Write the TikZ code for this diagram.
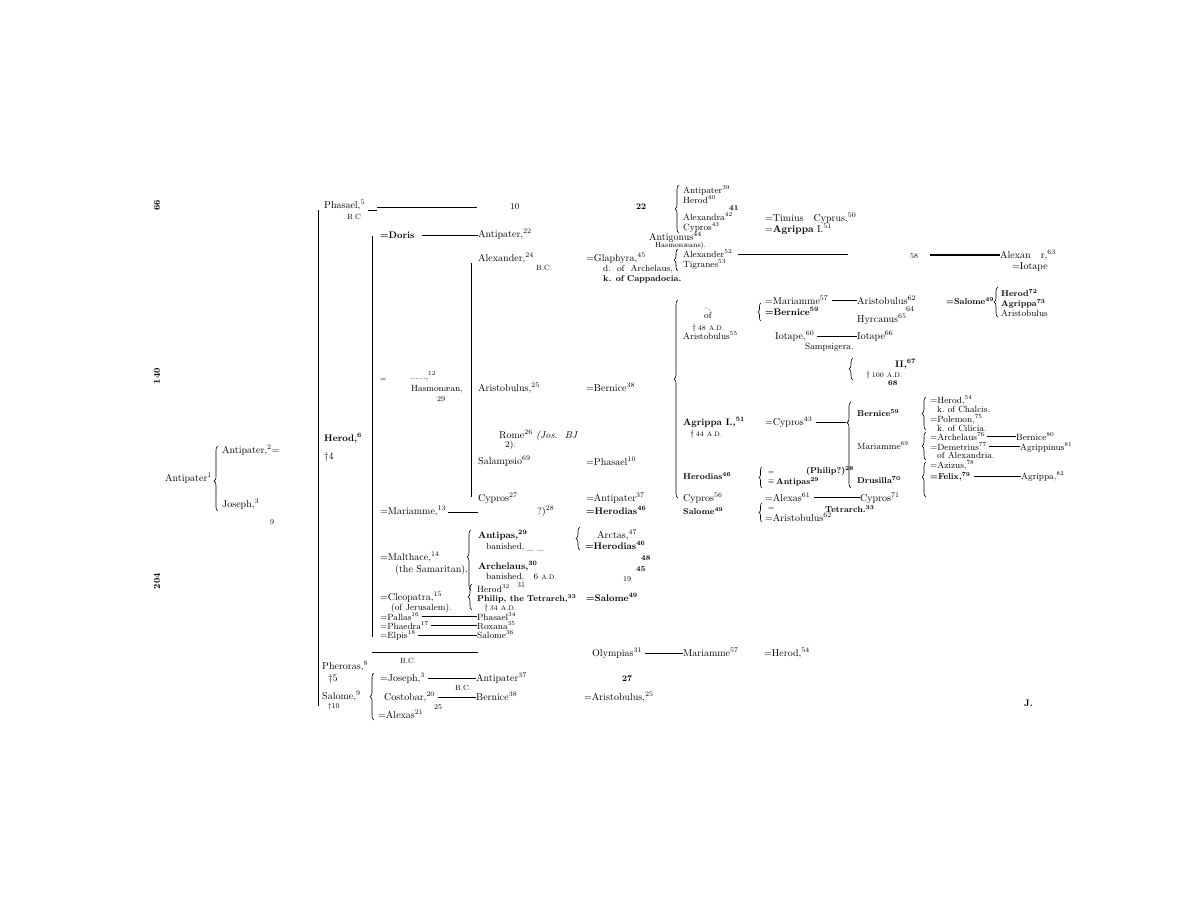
\documentclass[tikz,border=0pt]{standalone}
\usetikzlibrary{decorations.pathreplacing}
\newcommand\nsup[1]{\textsuperscript{#1}}
\newcommand\myAD{{\fontsize{6.5}{7}\selectfont A.D.}}
\newcommand\myBC{{\fontsize{6.5}{7}\selectfont B.C.}}
\begin{document}
\begin{tikzpicture}[x=1pt,y=-1pt,
  t/.style={anchor=base west,inner sep=0pt,font=\fontsize{10}{11}\selectfont},
  tb/.style={t,font=\fontsize{9.5}{11}\selectfont\bfseries},
  ts/.style={t,font=\fontsize{9}{10}\selectfont},
  tsb/.style={t,font=\fontsize{8.5}{10}\selectfont\bfseries},
  tn/.style={t,font=\fontsize{7.5}{8}\selectfont},
  tnb/.style={t,font=\fontsize{7.5}{8}\selectfont\bfseries},
  ln/.style={line width=0.8pt},
  br/.style={decorate,decoration={brace,amplitude=4pt},line width=0.6pt}]
\useasboundingbox (0,0) rectangle (1188,919);
\fill[white] (0,0) rectangle (1188,919);
% margin numbers
\node[t,rotate=90,anchor=center,font=\fontsize{9}{10}\selectfont\bfseries] (m66) at (157,205) {66};
\node[t,rotate=90,anchor=center,font=\fontsize{9}{10}\selectfont\bfseries] (m140) at (157,376) {140};
\node[t,rotate=90,anchor=center,font=\fontsize{9}{10}\selectfont\bfseries] (m204) at (157,581) {204};
% left
\node[t] (ant1) at (165,481) {Antipater\nsup{1}};
\node[t] (ant2) at (222,453) {Antipater,\nsup{2}=};
\node[t] (jos3) at (222,507) {Joseph,\nsup{3}};
\node[tn] (n9) at (270,524) {9};
\draw[br,decoration={aspect=0.46}] (218,511) -- (218,446);
% main line
\coordinate (v1t) at (318,210); \coordinate (v1b) at (318,706);
\draw[ln] (v1t) -- (v1b);
\node[t] (phasael5) at (324,208) {Phasael,\nsup{5}};
\node[tn] (bc1) at (347,219) {B.C};
\coordinate (p5a) at (368,210); \coordinate (p5b) at (377,210);
\coordinate (p5c) at (377,207); \coordinate (p5d) at (477,207);
\draw[ln] (p5a) -- (p5b); \draw[ln] (p5c) -- (p5d);
\node[ts] (n10) at (510,209) {10};
\node[tsb] (n22) at (636,209) {22};
\node[tb] (herod6) at (324,441) {Herod,\nsup{6}};
\node[t] (d4) at (324,459) {\dag 4};
% column 2
\coordinate (v2t) at (372,236); \coordinate (v2b) at (372,637);
\draw[ln] (v2t) -- (v2b);
\node[tb] (doris) at (380,238) {=Doris};
\node[t] (antip22) at (478,237) {Antipater,\nsup{22}};
\coordinate (dl) at (422,235);
\draw[ln] (dl) -- (dl -| antip22.west);
\node[t] (alex24) at (478,261) {Alexander,\nsup{24}};
\node[tn] (bc2) at (536,270) {B.C.};
\coordinate (v3t) at (471,263); \coordinate (v3b) at (471,497);
\draw[ln] (v3t) -- (v3b);
\node[t] (glaph) at (586,261) {=Glaphyra,\nsup{45}};
\node[ts] (darch) at (603,271) {d.\ \ of\ \ Archelaus,};
\node[tsb] (kcapp) at (603,281) {k. of Cappadocia.};
\node[t] (antig) at (649,240) {Antigonus\nsup{44}};
\node[tn] (hasm) at (655,247) {Hasmonæans).};
% top brace group
\draw[br] (679,233) -- (679,185);
\node[ts] (antip39) at (683,193) {Antipater\nsup{39}};
\node[ts] (herod40) at (683,203) {Herod\nsup{40}};
\node[tnb] (n41) at (729,210) {41};
\node[ts] (alexa42) at (683,220) {Alexandra\nsup{42}};
\node[ts] (cypr43a) at (683,230) {Cypros\nsup{43}};
\node[t] (timius) at (765,221) {=Timius\ \ \ Cyprus.\nsup{50}};
\node[t] (agr51a) at (765,232) {=\textbf{Agrippa} I.\nsup{51}};
\draw[br] (678,271) -- (678,249);
\node[ts] (alex52) at (683,257) {Alexander\nsup{52}};
\node[ts] (tigr53) at (683,267) {Tigranes\nsup{53}};
\coordinate (l52a) at (738,254); \coordinate (l52b) at (848,254);
\draw[ln] (l52a) -- (l52b);
\node[tn] (n58) at (910,258) {58};
\node[t] (alex63) at (1000,258) {Alexan\ \ \ r,\nsup{63}};
\coordinate (l63) at (930,255);
\draw[line width=1.6pt] (l63) -- (l63 -| alex63.west);
\node[t] (iot) at (1012,269) {=Iotape};
% Hasmonaean
\node[tn] (eq12) at (380,381) {=};
\node[ts] (dots12) at (410,379) {......,\nsup{12}};
\node[ts] (hasm2) at (411,391) {Hasmonæan,};
\node[tn] (n29) at (437,401) {29};
\node[t] (arist25) at (478,391) {Aristobulus,\nsup{25}};
\node[t] (bern38) at (586,391) {=Bernice\nsup{38}};
\node[t] (rome) at (499,438) {Rome\nsup{26} \textit{(Jos.\ \ BJ}};
\node[ts] (two) at (505,447) {2).};
\node[t] (salamp) at (478,464) {Salampsio\nsup{69}};
\node[t] (phas10) at (586,465) {=Phasael\nsup{10}};
\node[t] (cypr27) at (478,501) {Cypros\nsup{27}};
\node[t] (antip37a) at (586,501) {=Antipater\nsup{37}};
\node[t] (mar13) at (380,514) {=Mariamme,\nsup{13}};
\coordinate (m13e) at (478,512);
\draw[ln] ([xshift=2pt]mar13.east |- m13e) -- (m13e);
\node[t] (phq) at (537,514) {?)\nsup{28}};
\node[tb] (herod46a) at (586,514) {=Herodias\nsup{46}};
% Malthace
\node[t] (malth) at (380,560) {=Malthace,\nsup{14}};
\node[t] (samar) at (395,572) {(the Samaritan).};
\draw[br,decoration={aspect=0.55}] (471,590) -- (471,530);
\node[tb] (antipas29) at (478,538) {Antipas,\nsup{29}};
\node[ts] (ban1) at (486,549) {banished, \_\ \_};
\node[tb] (archel30) at (478,569) {Archelaus,\nsup{30}};
\node[ts] (ban2) at (486,579) {banished,\ \ \ 6 \myAD};
\node[tn] (n31) at (517,587) {31};
\draw[br] (580,550) -- (580,527);
\node[t] (arct) at (597,538) {Arctas,\nsup{47}};
\node[tb] (herod46b) at (585,549) {=Herodias\nsup{46}};
\node[tnb] (n48) at (641,560) {48};
\node[tnb] (n45) at (636,571) {45};
\node[tn] (n19) at (623,581) {19};
\node[t] (cleo) at (380,600) {=Cleopatra,\nsup{15}};
\node[ts] (jeru) at (391,610) {(of Jerusalem).};
\draw[br] (472,610) -- (472,584);
\node[ts] (herod32) at (477,592) {Herod\nsup{32}};
\node[tsb] (philip33) at (477,601) {Philip, the Tetrarch,\nsup{33}};
\node[ts] (d34) at (484,610) {\dag\,{\fontsize{7}{8}\selectfont 34} \myAD};
\node[tb] (sal49a) at (586,601) {=Salome\nsup{49}};
\node[ts] (pall) at (380,620) {=Pallas\nsup{16}};
\node[ts] (phas34) at (477,620) {Phasael\nsup{34}};
\node[ts] (phaed) at (380,629) {=Phaedra\nsup{17}};
\node[ts] (rox35) at (477,629) {Roxana\nsup{35}};
\node[ts] (elp) at (380,638) {=Elpis\nsup{18}};
\node[ts] (sal36) at (477,638) {Salome\nsup{36}};
\draw[line width=0.6pt] ([xshift=2pt]pall.east) -- (pall.east -| phas34.west);
\draw[line width=0.6pt] ([xshift=2pt]phaed.east) -- (phaed.east -| rox35.west);
\draw[line width=0.6pt] ([xshift=2pt]elp.east) -- (elp.east -| sal36.west);
% lower left
\coordinate (hl1) at (372,652); \coordinate (hl2) at (478,652);
\draw[ln] (hl1) -- (hl2);
\node[tn] (bc3) at (400,663) {B.C.};
\node[t] (pher8) at (322,669) {Pheroras,\nsup{8}};
\node[t] (d5) at (328,681) {\dag5};
\node[t] (sal9) at (322,699) {Salome,\nsup{9}};
\node[tn] (d10) at (328,708) {\dag10};
\draw[br] (374,720) -- (374,673);
\node[t] (jos3b) at (380,681) {=Joseph,\nsup{3}};
\node[t] (antip37b) at (476,681) {Antipater\nsup{37}};
\draw[line width=0.6pt] ([xshift=3pt]jos3b.east) -- (jos3b.east -| antip37b.west);
\node[tn] (bc4) at (455,690) {B.C.};
\node[t] (costo) at (384,700) {Costobar,\nsup{20}};
\node[t] (bern38b) at (476,700) {Bernice\nsup{38}};
\draw[line width=0.6pt] ([xshift=3pt]costo.east) -- (costo.east -| bern38b.west);
\node[tn] (n25) at (434,709) {25};
\node[t] (alexas21) at (378,718) {=Alexas\nsup{21}};
\node[t] (olymp) at (592,656) {Olympias\nsup{31}};
\node[t] (mar57a) at (683,656) {Mariamme\nsup{57}};
\draw[line width=0.6pt] ([xshift=3pt]olymp.east) -- (olymp.east -| mar57a.west);
\node[t] (herod54a) at (764,656) {=Herod,\nsup{54}};
\node[tsb] (n27) at (622,681) {27};
\node[t] (arist25b) at (584,700) {=Aristobulus,\nsup{25}};
% column 4
\draw[br,decoration={aspect=0.6}] (678,498) -- (678,300);
\node[tn] (dash55) at (704,310) {--,};
\node[ts] (of55) at (704,318) {of};
\node[ts] (d48) at (692,330) {\dag\,{\fontsize{7}{8}\selectfont 48} \myAD};
\node[ts] (arist55) at (683,339) {Aristobulus\nsup{55}};
\node[tb] (agr51) at (683,425) {Agrippa I.,\nsup{51}};
\node[ts] (d44) at (690,436) {\dag\,{\fontsize{7}{8}\selectfont 44} \myAD};
\node[tsb] (herod46c) at (683,479) {Herodias\nsup{46}};
\node[t] (cypr56) at (683,501) {Cypros\nsup{56}};
\node[tsb] (sal49b) at (683,514) {Salome\nsup{49}};
% column 5
\draw[br,decoration={amplitude=3pt}] (761,321) -- (761,303);
\node[t] (mar57b) at (765,304) {=Mariamme\nsup{57}};
\node[t] (arist62a) at (857,304) {Aristobulus\nsup{62}};
\draw[line width=0.6pt] ([xshift=3pt]mar57b.east) -- (mar57b.east -| arist62a.west);
\node[tn] (n64) at (906,311) {64};
\node[tb] (bern59a) at (765,315) {=Bernice\nsup{59}};
\node[t] (hyrc) at (857,322) {Hyrcanus\nsup{65}};
\node[t] (iot60) at (775,339) {Iotape,\nsup{60}};
\node[t] (iot66) at (857,339) {Iotape\nsup{66}};
\draw[line width=0.6pt] ([xshift=3pt]iot60.east) -- (iot60.east -| iot66.west);
\node[ts] (samps) at (805,349) {Sampsigera.};
\node[tsb] (sal49c) at (946,304) {=Salome\nsup{49}};
\draw[br] (998,317) -- (998,287);
\node[tsb] (herod72) at (1001,296) {Herod\nsup{72}};
\node[tsb] (agr73) at (1001,306) {Agrippa\nsup{73}};
\node[ts] (arist) at (1001,316) {Aristobulus};
\draw[br] (853,380) -- (853,358);
\node[tb] (ii67) at (895,367) {II,\nsup{67}};
\node[ts] (d100) at (866,377) {\dag\,{\fontsize{7}{8}\selectfont 100} \myAD};
\node[tnb] (n68) at (888,385) {68};
\node[t] (cypr43b) at (765,425) {=Cypros\nsup{43}};
\draw[br,decoration={aspect=0.76}] (851,488) -- (851,402);
\coordinate (bk) at (846,423);
\draw[line width=0.6pt] ([xshift=3pt]cypr43b.east) -- (cypr43b.east -| bk);
\node[tsb] (bern59b) at (857,416) {Bernice\nsup{59}};
\node[ts] (mar69) at (857,449) {Mariamme\nsup{69}};
\node[tsb] (drus70) at (857,483) {Drusilla\nsup{70}};
\draw[br,decoration={amplitude=3pt}] (762,488) -- (762,467);
\node[tn] (eqa) at (768,474) {=};
\node[tn] (eqb) at (768,483) {$\equiv$};
\node[tsb] (antipas29b) at (776,484) {Antipas\nsup{29}};
\node[tsb] (philq) at (806,473) {(Philip?)\nsup{28}};
\node[t] (alex61) at (765,501) {=Alexas\nsup{61}};
\node[t] (cypr71) at (860,501) {Cypros\nsup{71}};
\draw[line width=0.6pt] ([xshift=3pt]alex61.east) -- (alex61.east -| cypr71.west);
\node[tsb] (tetr) at (825,512) {Tetrarch.\nsup{33}};
\draw[br,decoration={amplitude=3pt}] (762,522) -- (762,503);
\node[tn] (eqc) at (768,510) {=};
\node[t] (arist62b) at (765,521) {=Aristobulus\nsup{62}};
% column 6
\draw[br] (926,430) -- (926,397);
\node[ts] (herod54b) at (930,403) {=Herod,\nsup{54}};
\node[ts] (kchal) at (937,412) {k.\ of Chalcis.};
\node[ts] (polem) at (930,422) {=Polemon,\nsup{75}};
\node[ts] (kcil) at (937,431) {k.\ of Cilicia.};
\draw[br] (926,460) -- (926,432);
\node[ts] (arch76) at (930,440) {=Archelaus\nsup{76}};
\node[ts] (bern80) at (1016,440) {Bernice\nsup{80}};
\draw[line width=0.6pt] ([xshift=2pt]arch76.east) -- (arch76.east -| bern80.west);
\node[ts] (demet) at (930,450) {=Demetrius\nsup{77}};
\node[ts] (agrip81) at (1020,450) {Agrippinus\nsup{81}};
\draw[line width=0.6pt] ([xshift=2pt]demet.east) -- (demet.east -| agrip81.west);
\node[ts] (ofalex) at (937,458) {of Alexandria.};
\node[ts] (aziz) at (930,468) {=Azizus,\nsup{78}};
\draw[br,decoration={aspect=0.57}] (926,497) -- (926,462);
\node[tsb] (felix) at (930,479) {=Felix,\nsup{79}};
\node[ts] (agr82) at (1021,479) {Agrippa,\nsup{82}};
\draw[line width=0.6pt] ([xshift=3pt]felix.east) -- (felix.east -| agr82.west);
\node[tb] (J) at (1024,706) {J.};
\end{tikzpicture}
\end{document}
